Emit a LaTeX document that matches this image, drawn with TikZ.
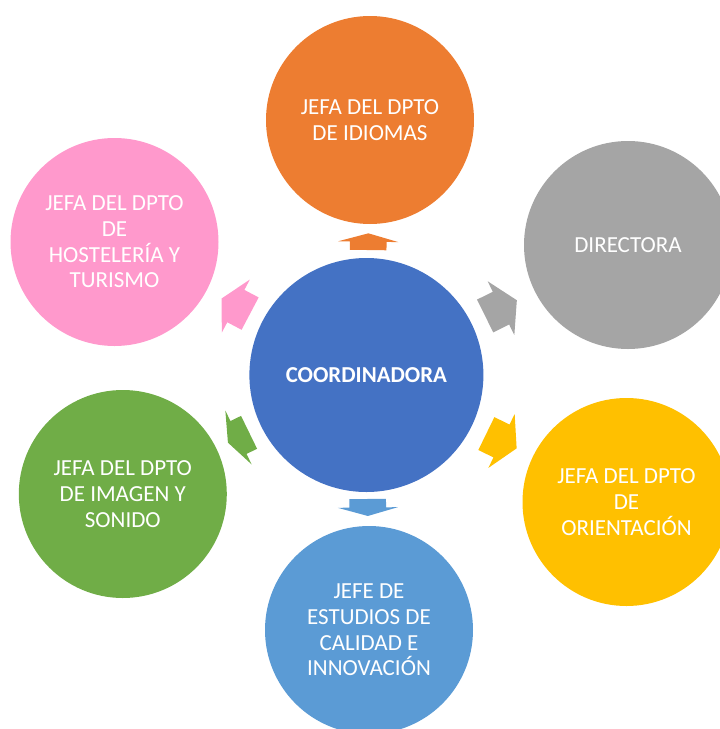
\documentclass[tikz,border=0pt]{standalone}
\usepackage{fontspec}
\setmainfont{Carlito}
\usetikzlibrary{calc}
\definecolor{cBlue}{HTML}{4472C4}
\definecolor{cOrange}{HTML}{ED7D31}
\definecolor{cGrey}{HTML}{A5A5A5}
\definecolor{cYellow}{HTML}{FFC000}
\definecolor{cLightBlue}{HTML}{5B9BD5}
\definecolor{cGreen}{HTML}{70AD47}
\definecolor{cPink}{HTML}{FF99CC}
\tikzset{
  dept/.style={circle, fill=#1, text=white, minimum size=208pt, inner sep=0pt,
    align=center, font=\fontsize{23}{25.7}\selectfont},
  hub/.style={circle, fill=cBlue, text=white, minimum size=234pt, inner sep=0pt,
    align=center, font=\fontsize{22.8}{25.7}\selectfont\bfseries},
}
% #1 colour, #2 from node, #3 to node, #4 start distance, #5 length
\newcommand\blockarrow[5]{%
  \path ($(#2)!#4!(#3)$) coordinate (ba-tail);
  \pgfmathanglebetweenpoints{\pgfpointanchor{#2}{center}}{\pgfpointanchor{#3}{center}}%
  \edef\baang{\pgfmathresult}%
  \begin{scope}[shift={(ba-tail)}, rotate=\baang]
    \fill[#1] (0,-18.3) -- ({0.5*#5},-18.3) -- ({0.5*#5},-30) -- (#5,0)
      -- ({0.5*#5},30) -- ({0.5*#5},18.3) -- (0,18.3) -- cycle;
  \end{scope}}
\begin{document}
\begin{tikzpicture}[x=1pt,y=-1pt]
\useasboundingbox (0,0) rectangle (720,729);
\clip (0,0) rectangle (720,729);
\node[hub] (coord) at (366.4,375) {COORDINADORA};
\node[dept=cOrange] (idiomas) at (370,120) {JEFA DEL DPTO\\DE IDIOMAS};
\node[dept=cGrey] (directora) at (628,245) {DIRECTORA};
\node[dept=cYellow] (orient) at (626.5,502) {JEFA DEL DPTO\\DE\\ORIENTACIÓN};
\node[dept=cLightBlue] (estudios) at (369,630) {JEFE DE\\ESTUDIOS DE\\CALIDAD E\\INNOVACIÓN};
\node[dept=cGreen] (imagen) at (122.8,494) {JEFA DEL DPTO\\DE IMAGEN Y\\SONIDO};
\node[dept=cPink] (hosteleria) at (114.5,242) {JEFA DEL DPTO\\DE\\HOSTELERÍA Y\\TURISMO};
\blockarrow{cOrange}{coord}{idiomas}{125pt}{16.7}
\blockarrow{cGrey}{coord}{directora}{132.6pt}{35.4}
\blockarrow{cYellow}{coord}{orient}{133.5pt}{33.7}
\blockarrow{cLightBlue}{coord}{estudios}{124pt}{17}
\blockarrow{cGreen}{coord}{imagen}{130.6pt}{23.5}
\blockarrow{cPink}{coord}{hosteleria}{131.5pt}{32.3}
\end{tikzpicture}
\end{document}
